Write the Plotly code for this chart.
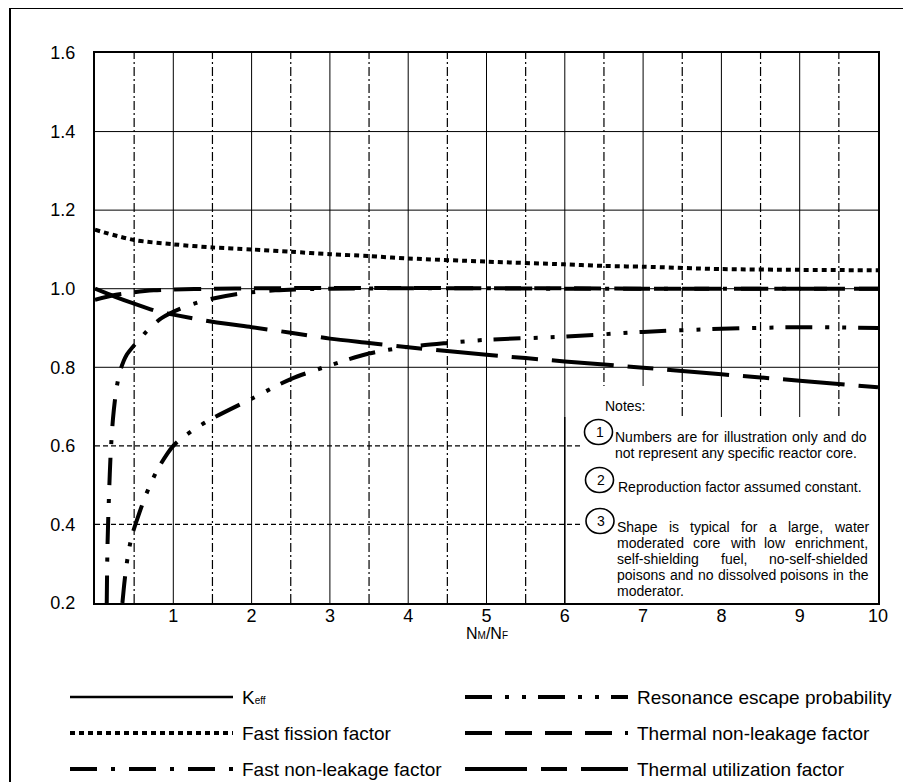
import plotly.graph_objects as go

# ---------------- data ----------------
fast_fission_x = [0, 0.5, 1, 1.5, 2, 2.5, 3, 3.5, 4, 5, 6, 6.5, 7, 8, 9, 10]
fast_fission_y = [1.15, 1.124, 1.113, 1.105, 1.10, 1.094, 1.088, 1.083, 1.077, 1.069, 1.062, 1.058, 1.056, 1.05, 1.048, 1.047]

fast_nl_x = [0.15, 0.16, 0.18, 0.2, 0.23, 0.27, 0.32, 0.4, 0.54, 0.7, 0.85, 1.1, 1.4, 1.8, 2.3, 3, 4, 5, 6, 7, 8, 9, 10]
fast_nl_y = [0.2, 0.35, 0.48, 0.58, 0.67, 0.74, 0.79, 0.83, 0.865, 0.9, 0.925, 0.95, 0.97, 0.986, 0.996, 1.0, 1.001, 1.001, 1.0, 1.0, 1.0, 1.0, 1.0]

resonance_x = [0.35, 0.38, 0.42, 0.47, 0.55, 0.65, 0.8, 1.0, 1.25, 1.5, 2, 2.5, 3, 3.5, 4, 4.5, 5, 6, 7, 8, 9, 10]
resonance_y = [0.2, 0.26, 0.32, 0.37, 0.42, 0.475, 0.54, 0.6, 0.64, 0.67, 0.72, 0.77, 0.805, 0.835, 0.852, 0.862, 0.87, 0.878, 0.89, 0.898, 0.902, 0.9]

thermal_nl_x = [0, 0.25, 0.5, 0.75, 1, 1.5, 2, 3, 4, 5, 6, 7, 8, 9, 10]
thermal_nl_y = [0.972, 0.984, 0.991, 0.996, 0.998, 1.0, 1.001, 1.002, 1.002, 1.001, 1.001, 1.0, 1.0, 1.0, 1.0]

thermal_util_x = [0, 0.25, 0.5, 0.8, 1, 1.5, 2, 2.5, 3, 3.5, 4, 5, 6, 7, 8, 9, 10]
thermal_util_y = [1.0, 0.98, 0.962, 0.942, 0.934, 0.916, 0.902, 0.888, 0.873, 0.862, 0.851, 0.832, 0.815, 0.799, 0.782, 0.766, 0.749]

x_tick_vals = [1, 2, 3, 4, 5, 6, 7, 8, 9, 10]
y_tick_vals = [0.2, 0.4, 0.6, 0.8, 1.0, 1.2, 1.4, 1.6]
y_tick_text = ["0.2", "0.4", "0.6", "0.8", "1.0", "1.2", "1.4", "1.6"]

legend_left = ["K<span style='font-size:10px'>eff</span>", "Fast fission factor", "Fast non-leakage factor"]
legend_right = ["Resonance escape probability", "Thermal non-leakage factor", "Thermal utilization factor"]

note_title = "Notes:"
note1_lines = ["Numbers are for illustration only and do", "not represent any specific reactor core."]
note2_lines = ["Reproduction factor assumed constant."]
note3_lines = ["Shape is typical for a large, water", "moderated core with low enrichment,",
               "self-shielding fuel, no-self-shielded", "poisons and no dissolved poisons in the",
               "moderator."]

# ---------------- geometry helpers ----------------
# reference pixel coordinates; the page body adds an 8px offset
OFF = 8
W, H = 911 - OFF, 782 - OFF
L, R, T, B = 95, 878, 53, 603
X0, X1, Y0, Y1 = 0.0, 10.0, 0.2, 1.6
FONT = "Liberation Sans, Arial, sans-serif"


def dx(px):
    return X0 + (px - L) / (R - L) * (X1 - X0)


def dy(py):
    return Y0 + (B - py) / (B - T) * (Y1 - Y0)


def pxp(px):
    return (px - L) / (R - L)


def pyp(py):
    return (B - py) / (B - T)


AW = dict(a=556, b=556, c=500, d=556, e=556, f=278, g=556, h=556, i=222, j=222, k=500, l=222,
          m=833, n=556, o=556, p=556, q=556, r=333, s=500, t=278, u=556, v=500, w=722, x=500,
          y=500, z=500, N=722, S=667, R=722)
AW.update({",": 278, ".": 278, "-": 333, ":": 278, " ": 278})


def text_w(s, size):
    return sum(AW.get(ch, 556) for ch in s) * size / 1000.0


fig = go.Figure()

series = [
    ("Thermal utilization factor", thermal_util_x, thermal_util_y, "62px,14px,26px,14px"),
    ("Resonance escape probability", resonance_x, resonance_y, "27px,13px,4px,13px,4px,12px"),
    ("Fast fission factor", fast_fission_x, fast_fission_y, "5px,4px"),
    ("Thermal non-leakage factor", thermal_nl_x, thermal_nl_y, "27px,13px"),
    ("Fast non-leakage factor", fast_nl_x, fast_nl_y, "27px,14px,4px,14px"),
]
dash_of = {}
for name, xs, ys, dash in series:
    dash_of[name] = dash
    fig.add_trace(go.Scatter(x=xs, y=ys, mode="lines", name=name, showlegend=False,
                             line=dict(color="black", width=4, dash=dash, shape="spline", smoothing=0.8)))

shapes = []
# vertical gridlines
for v in range(1, 10):
    shapes.append(dict(type="line", xref="x", yref="y", x0=v, x1=v, y0=Y0, y1=Y1,
                       line=dict(color="black", width=1), layer="below"))
for k in range(10):
    v = k + 0.5
    shapes.append(dict(type="line", xref="x", yref="y", x0=v, x1=v, y0=Y0, y1=Y1,
                       line=dict(color="black", width=1.2, dash="9px,3px,2px,3px"), layer="below"))
# horizontal solid gridlines
for hval in [0.8, 1.0, 1.2, 1.4]:
    shapes.append(dict(type="line", xref="x", yref="y", x0=X0, x1=X1, y0=hval, y1=hval,
                       line=dict(color="black", width=1), layer="below"))
# notes box (white) and Notes-label patch
box_top = dy(417)
shapes.append(dict(type="rect", xref="x", yref="y", x0=6, x1=10, y0=Y0, y1=box_top,
                   fillcolor="white", line=dict(width=0), layer="below"))
shapes.append(dict(type="rect", xref="x", yref="y", x0=dx(598), x1=dx(652), y0=box_top, y1=dy(386),
                   fillcolor="white", line=dict(width=0), layer="below"))
shapes.append(dict(type="line", xref="x", yref="y", x0=6, x1=6, y0=Y0, y1=box_top,
                   line=dict(color="black", width=1.6), layer="below"))
# horizontal dashed gridlines
for hval in [0.4, 0.6]:
    shapes.append(dict(type="line", xref="x", yref="y", x0=X0, x1=dx(582), y0=hval, y1=hval,
                       line=dict(color="black", width=1.2, dash="5px,3px"), layer="below"))

annotations = []
NOTE_SIZE = 14
annotations.append(dict(x=dx(605), y=dy(406), xref="x", yref="y", text=note_title, showarrow=False,
                        xanchor="left", yanchor="middle", font=dict(family=FONT, size=NOTE_SIZE, color="black"),
                        borderpad=0, borderwidth=0))

# numbered circles
for num, (cx, cy) in zip(["1", "2", "3"], [(598.5, 432), (599.5, 480), (600, 521)]):
    shapes.append(dict(type="circle", xref="x", yref="y", x0=dx(cx - 14), x1=dx(cx + 14),
                       y0=dy(cy + 12.5), y1=dy(cy - 12.5), line=dict(color="black", width=1.6),
                       fillcolor="rgba(0,0,0,0)", layer="above"))
    annotations.append(dict(x=dx(cx + 1), y=dy(cy), xref="x", yref="y", text=num, showarrow=False,
                            xanchor="center", yanchor="middle",
                            font=dict(family=FONT, size=NOTE_SIZE, color="black"), borderpad=0, borderwidth=0))


def put_line(line, left, right, py, justify):
    words = line.split()
    if not justify or len(words) < 2:
        annotations.append(dict(x=dx(left), y=dy(py), xref="x", yref="y", text=line, showarrow=False,
                                xanchor="left", yanchor="middle",
                                font=dict(family=FONT, size=NOTE_SIZE, color="black"), borderpad=0, borderwidth=0))
        return
    ws = [text_w(w, NOTE_SIZE) for w in words]
    gap = (right - left - sum(ws)) / (len(words) - 1)
    xcur = left
    for w, wd in zip(words, ws):
        annotations.append(dict(x=dx(xcur), y=dy(py), xref="x", yref="y", text=w, showarrow=False,
                                xanchor="left", yanchor="middle",
                                font=dict(family=FONT, size=NOTE_SIZE, color="black"), borderpad=0, borderwidth=0))
        xcur += wd + gap


put_line(note1_lines[0], 615, 867, 437, True)
put_line(note1_lines[1], 615, 867, 453, False)
put_line(note2_lines[0], 618, 867, 487, False)
for i, (ln, py) in enumerate(zip(note3_lines, [527, 543, 559, 575, 591])):
    put_line(ln, 617, 868, py, i < 4)

# x axis title
annotations.append(dict(x=5, y=pyp(633), xref="x", yref="paper",
                        text="N<span style='font-size:10px'>M</span>/N<span style='font-size:10px'>F</span>",
                        showarrow=False, xanchor="center", yanchor="middle",
                        font=dict(family=FONT, size=16, color="black")))

# custom legend
rows_py = [697, 733, 769]
left_line = (70, 233)
right_line = (465, 628)
left_styles = [("", 2.7), (dash_of["Fast fission factor"], 4), (dash_of["Fast non-leakage factor"], 4)]
right_styles = [(dash_of["Resonance escape probability"], 4), (dash_of["Thermal non-leakage factor"], 4),
                (dash_of["Thermal utilization factor"], 4)]
for (x0p, x1p), labels, styles, text_x in [(left_line, legend_left, left_styles, 242),
                                           (right_line, legend_right, right_styles, 637)]:
    for py, lab, (dsh, wd) in zip(rows_py, labels, styles):
        ln = dict(color="black", width=wd)
        if dsh:
            ln["dash"] = dsh
        shapes.append(dict(type="line", xref="paper", yref="paper", x0=pxp(x0p), x1=pxp(x1p),
                           y0=pyp(py), y1=pyp(py), line=ln, layer="above"))
        annotations.append(dict(x=pxp(text_x), y=pyp(py), xref="paper", yref="paper", text=lab,
                                showarrow=False, xanchor="left", yanchor="middle",
                                font=dict(family=FONT, size=19, color="black"), borderpad=0, borderwidth=0))

# outer frame
shapes.append(dict(type="rect", xref="paper", yref="paper", x0=pxp(10), x1=pxp(905), y0=pyp(800), y1=pyp(8),
                   line=dict(color="black", width=2), fillcolor="rgba(0,0,0,0)", layer="above"))

fig.update_layout(
    width=W, height=H,
    margin=dict(l=L - OFF, r=W - (R - OFF), t=T - OFF, b=H - (B - OFF), pad=0),
    paper_bgcolor="white", plot_bgcolor="white",
    font=dict(family=FONT, size=18, color="black"),
    shapes=shapes, annotations=annotations, showlegend=False,
    xaxis=dict(range=[X0, X1], tickmode="array", tickvals=x_tick_vals, ticktext=[str(v) for v in x_tick_vals],
               showgrid=False, zeroline=False, showline=True, mirror=True, linecolor="black", linewidth=2,
               ticks="", ticklabelstandoff=-5, tickfont=dict(family=FONT, size=18, color="black")),
    yaxis=dict(range=[Y0, Y1], tickmode="array", tickvals=y_tick_vals, ticktext=y_tick_text,
               showgrid=False, zeroline=False, showline=True, mirror=True, linecolor="black", linewidth=2,
               ticks="", ticklabelstandoff=14, tickfont=dict(family=FONT, size=18, color="black")),
)

fig.write_html("out.html")
